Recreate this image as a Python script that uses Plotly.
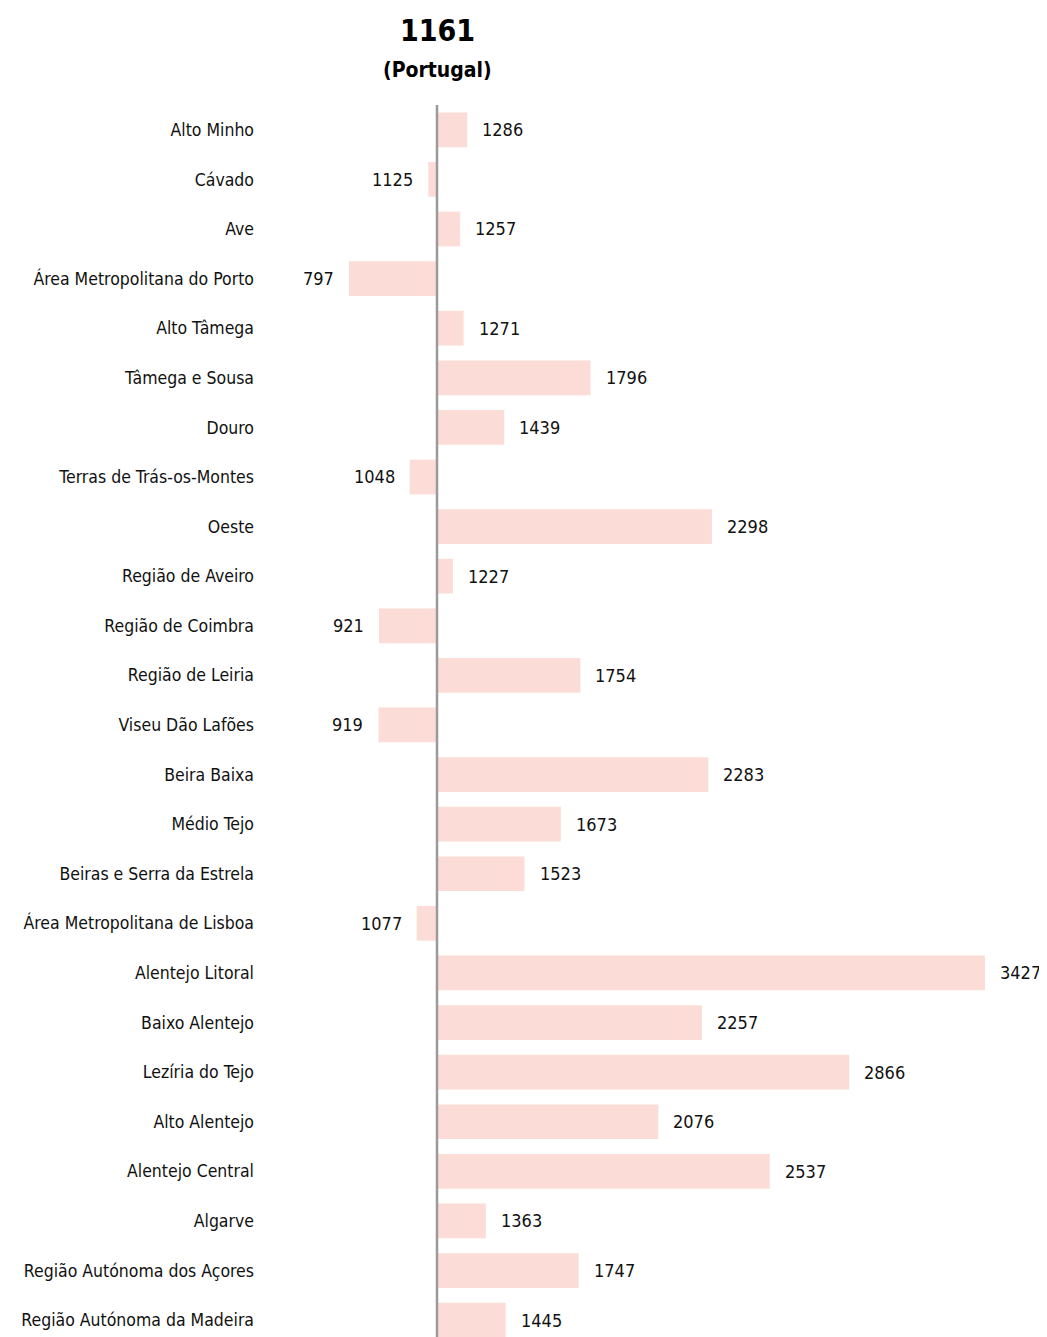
import plotly.graph_objects as go

regions = ["Alto Minho", "Cávado", "Ave", "Área Metropolitana do Porto", "Alto Tâmega",
           "Tâmega e Sousa", "Douro", "Terras de Trás-os-Montes", "Oeste", "Região de Aveiro",
           "Região de Coimbra", "Região de Leiria", "Viseu Dão Lafões", "Beira Baixa", "Médio Tejo",
           "Beiras e Serra da Estrela", "Área Metropolitana de Lisboa", "Alentejo Litoral",
           "Baixo Alentejo", "Lezíria do Tejo", "Alto Alentejo", "Alentejo Central", "Algarve",
           "Região Autónoma dos Açores", "Região Autónoma da Madeira"]
values = [1286, 1125, 1257, 797, 1271, 1796, 1439, 1048, 2298, 1227, 921, 1754, 919, 2283,
          1673, 1523, 1077, 3427, 2257, 2866, 2076, 2537, 1363, 1747, 1445]
baseline = 1161
title_main = "1161"
title_sub = "(Portugal)"

FONT = "DejaVu Sans Condensed, Liberation Sans Narrow, Roboto Condensed, sans-serif"

fig = go.Figure()
fig.add_trace(go.Bar(
    y=regions,
    x=[v - baseline for v in values],
    base=baseline,
    orientation="h",
    width=0.7,
    marker=dict(color="#FCDCD6", line=dict(width=0)),
    hoverinfo="skip",
))

for r, v in zip(regions, values):
    pos = v >= baseline
    fig.add_annotation(
        x=v, y=r, text=str(v), showarrow=False,
        xanchor="left" if pos else "right",
        xshift=13 if pos else -13,
        font=dict(family=FONT, size=18, color="#111111"),
    )

fig.add_shape(type="line", xref="x", yref="paper", x0=baseline, x1=baseline, y0=0, y1=1,
              line=dict(color="#9a9a9a", width=2.5))

fig.add_annotation(x=baseline, y=1, xref="x", yref="paper", yshift=75, text="<b>" + title_main + "</b>",
                   showarrow=False, font=dict(family=FONT, size=30, color="#000"), yanchor="middle")
fig.add_annotation(x=baseline, y=1, xref="x", yref="paper", yshift=35, text="<b>" + title_sub + "</b>",
                   showarrow=False, font=dict(family=FONT, size=21, color="#000"), yanchor="middle")

fig.update_layout(
    width=1039, height=1329,
    margin=dict(l=257, r=0, t=97, b=0),
    plot_bgcolor="white", paper_bgcolor="white",
    showlegend=False,
    xaxis=dict(range=[449.7, 3683.7], visible=False, fixedrange=True),
    yaxis=dict(range=[24.34, -0.5], tickfont=dict(family=FONT, size=17.5, color="#111111"),
               showgrid=False, zeroline=False, showline=False, ticks="", ticklabelstandoff=10,
               automargin=False),
)

fig.write_html("out.html")
